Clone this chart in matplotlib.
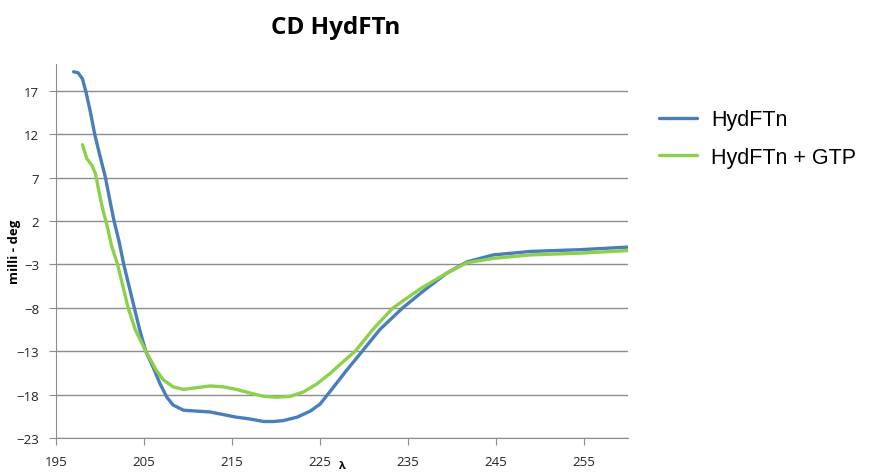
import matplotlib
matplotlib.use("Agg")
import matplotlib.pyplot as plt

# HydFTn (blue)
wl_a = [197.0, 197.5, 198.0, 198.4, 198.9, 199.4, 200.0, 200.6, 201.1, 201.6, 202.2, 202.7, 203.3,
        203.9, 204.5, 205.2, 206.1, 206.8, 207.6, 208.3, 209.5, 211.0, 212.5, 214.0,
        215.5, 217.0, 218.6, 219.7, 220.8, 222.4, 223.9, 225.0, 226.1, 228.1, 229.8,
        231.8, 234.4, 236.7, 239.4, 241.7, 244.7, 248.9, 254.5, 260.0]
cd_a = [19.2, 19.1, 18.4, 16.9, 14.6, 12.0, 9.5, 7.1, 4.5, 2.0, -0.5, -3.0, -5.5,
        -8.0, -10.5, -13.0, -15.0, -16.7, -18.3, -19.2, -19.8, -19.9, -20.0, -20.3,
        -20.6, -20.8, -21.1, -21.1, -21.0, -20.6, -19.9, -19.1, -17.7, -15.1, -13.0,
        -10.5, -8.0, -6.1, -4.0, -2.7, -1.9, -1.5, -1.3, -1.0]

# HydFTn + GTP (green)
wl_b = [198.0, 198.5, 199.1, 199.5, 199.9, 200.3, 200.8, 201.3, 202.0, 202.6, 203.2,
        204.0, 205.2, 205.7, 206.4, 207.2, 208.3, 209.5, 211.0, 212.5, 214.0, 215.5,
        217.0, 218.6, 220.1, 221.6, 223.1, 224.6, 226.1, 227.3, 229.0, 231.0, 233.3,
        236.4, 239.4, 241.7, 244.7, 248.9, 254.5, 260.0]
cd_b = [10.8, 9.2, 8.4, 7.4, 5.3, 3.4, 1.5, -0.8, -3.0, -5.5, -8.0,
        -10.5, -13.0, -13.9, -15.2, -16.3, -17.1, -17.4, -17.2, -17.0, -17.1, -17.4,
        -17.8, -18.2, -18.3, -18.2, -17.7, -16.8, -15.6, -14.5, -13.0, -10.5, -8.0,
        -5.8, -4.0, -2.8, -2.3, -1.9, -1.7, -1.4]

labels = ["HydFTn", "HydFTn + GTP"]
x_ticks = [195, 205, 215, 225, 235, 245, 255]
y_ticks = [-23, -18, -13, -8, -3, 2, 7, 12, 17]

plt.rcParams['font.family'] = ['Open Sans', 'DejaVu Sans']

fig = plt.figure(figsize=(8.73, 4.77), dpi=100)
ax = fig.add_axes([56/873, 38/477, (628-56)/873, (439-65)/477])

l1, = ax.plot(wl_a, cd_a, color="#4a7ebb", lw=2.4, solid_capstyle='round',
              solid_joinstyle='round')
l2, = ax.plot(wl_b, cd_b, color="#8cd04b", lw=2.4, solid_capstyle='round',
              solid_joinstyle='round')

ax.set_xlim(195, 260)
ax.set_ylim(-23, 20.1)
ax.set_xticks(x_ticks)
ax.set_yticks(y_ticks)
ax.yaxis.grid(True, color="#8c8c8c", lw=1)
ax.set_axisbelow(True)
for s in ["top", "right"]:
    ax.spines[s].set_visible(False)
for s in ["left", "bottom"]:
    ax.spines[s].set_color("#8c8c8c")
ax.tick_params(axis='both', colors="#8c8c8c", labelcolor="#222222", labelsize=9.5, length=5)
ax.tick_params(axis='x', pad=7)
ax.tick_params(axis='y', pad=7)

ax.set_ylabel("milli - deg", fontsize=9.5, fontweight='bold')
ax.yaxis.set_label_coords(-(56 - 21)/572, 0.5)
ax.set_xlabel("λ", fontsize=8, fontweight='bold')
ax.xaxis.set_label_coords(0.5, -(467 - 439)/374)
ax.xaxis.label.set_va('center')

fig.text(336/873, 1 - 28/477, "CD HydFTn", fontsize=17.5, fontweight='bold',
         ha='center', va='center')

fig.legend([l1, l2], labels, loc='upper left', bbox_to_anchor=(640/873, 1 - 91/477),
           frameon=False, handlelength=1.75, handletextpad=0.65,
           labelspacing=0.75, prop={'family': ['Liberation Sans', 'DejaVu Sans'], 'size': 15.5})

fig.savefig("out.png", dpi=100)
